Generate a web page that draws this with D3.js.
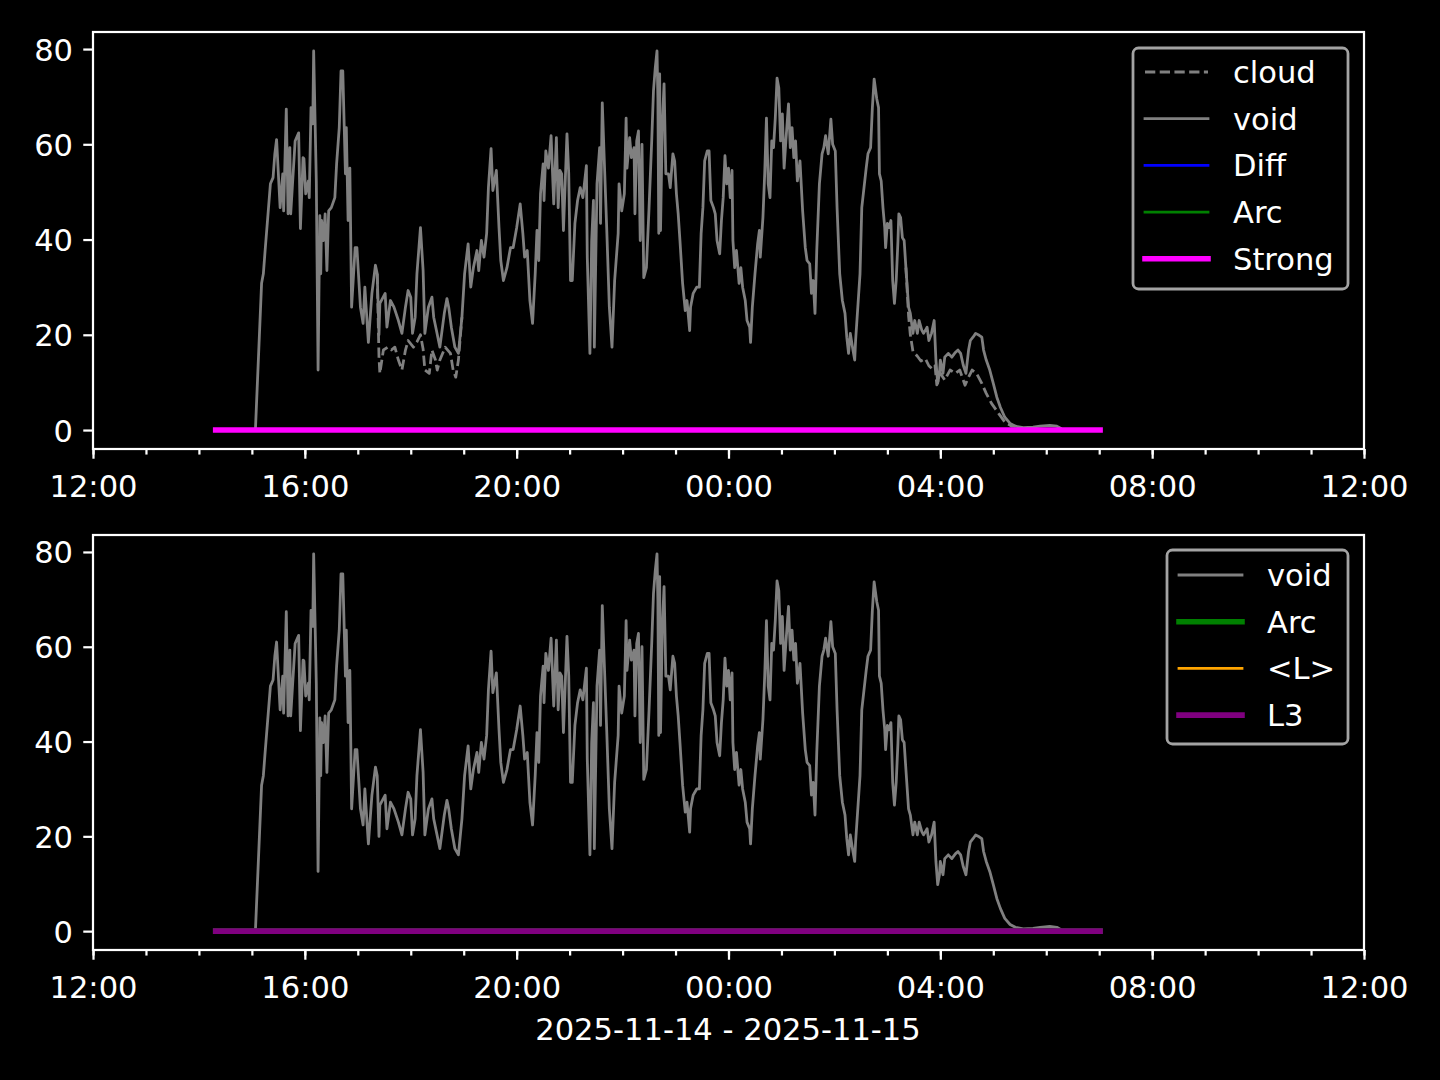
<!DOCTYPE html>
<html><head><meta charset="utf-8">
<script src="https://cdn.jsdelivr.net/npm/d3@7"></script>
<style>
body{margin:0;background:#000}
svg{display:block}
text{font-family:"DejaVu Sans",sans-serif;fill:#fff}
</style></head>
<body><svg id="c" width="1440" height="1080"></svg>
<script>
// ---------- DATA (minutes after 2025-11-14 12:00, value) ----------
const baseDate = new Date(2025, 10, 14, 12, 0);
const xDomainMinutes = [0, 1440];
const yTickValues = [0, 20, 40, 60, 80];
const xLabelText = "2025-11-14 - 2025-11-15";

const voidSeries = [
[184,0],[191,30.8],[193,32.8],[195,37.7],[201,51.7],[204,53],[206,58],[208,61],[212,46.7],[215,53.8],[216,46],[219,67.4],[221,45.4],[223,59.3],[224,45.4],[229,60.7],[233,62.4],[235,42.3],[238,57.2],[239,57],[241,49.6],[244,52.3],[245,48.8],[247,67.7],[249,64.3],[250,79.6],[253,52.3],[255,12.6],[257,45],[258,32.8],[259,44],[261,39.8],[263,45.4],[265,33.5],[267,46],[270,46.7],[274,48.8],[276,55.9],[279,63.5],[281,75.4],[283,75.4],[286,53.8],[287,63.5],[289,44],[291,55],[293,25.8],[297,38.3],[299,38.3],[303,25.8],[306,22.4],[308,30],[312,18.4],[316,28.7],[320,34.6],[322,32.8],[324,20],[325,26.6],
[331,28.7],[333,21.6],[337,27.2],[341,25.8],[346,23],[350,20.3],[354,25.8],[357,29.3],[360,27.9],[362,20.3],[365,23.7],[367,32.8],[371,42.5],[374,33.5],[376,20.3],[380,25.8],[384,27.9],[386,23.7],[389,21],[393,17.4],[398,24.5],[401,27.6],[403,25.8],[406,21.6],[410,17.4],[414,16.1],[418,23.7],[421,32.8],[425,39.1],[428,30],[431,34.1],[435,37.7],[437,33.5],[440,39.8],[443,36.3],[446,41.3],[448,50.9],[451,59.1],[453,50.3],[457,54.5],[460,42.5],[462,35.6],[465,31.4],[469,34.1],[473,38.3],[476,38.3],[480,42.5],[484,47.5],
[487,41.3],[489,36.3],[492,37.7],[495,27.2],[498,22.4],[501,32.8],[503,41.9],[505,35.6],[507,49.6],[510,55.9],[511,48.2],[513,58.6],[516,55],[519,61.8],[522,47.5],[525,61.4],[527,46.7],[529,54.5],[531,53.8],[533,41.9],[537,62.2],[539,53.8],[541,31.4],[543,31.4],[546,43.4],[549,48.2],[552,50.9],[555,48.8],[559,55.5],[560,36.3],[563,16.1],[565,39.8],[567,48.2],[568,17.4],[571,51.7],[574,59.3],[575,43.4],[577,68.7],[579,58],[582,42.5],[585,25.8],[588,17.4],[591,31.4],[595,41.3],[596,51.7],[599,46],[602,49.6],[604,65.5],[605,55],[608,61.4],[610,57.2],[613,59.3],[614,45.4],[616,60.7],[618,62.8],[620,39.8],[622,60],[624,32],[627,34.1],[630,46.7],[633,60.7],[635,71.2],[637,76],[639,79.6],[640,69.7],[641,41.3],[642,74.8],[643,41.9],[645,64.3],[647,72.7],[649,53.8],[652,53.8],[654,50.9],[657,58],[659,56.5],[661,49.6],[663,45.4],[665,39.8],[668,30.8],[671,25.1],[673,27.2],[676,20.9],[677,25.8],[680,28.7],[684,30],[687,30],[689,41.3],[691,46.7],[693,56.5],[696,58.6],[698,58.6],[700,48.2],[703,46.7],[705,45.4],[707,39.8],[710,37],[712,44],[714,48.8],[716,57.6],[718,51.7],[720,55],[722,48.8],[724,54.5],[725,39.8],[727,34.1],[729,37.7],[732,30.8],[734,34.1],[736,30],[739,27.2],[741,23],[744,21.6],[745,18.4],[747,25.8],[750,32.8],[753,39.1],[755,41.9],[756,36.3],[759,44.6],[761,53.8],[763,65.5],[765,51.7],[767,48.8],[769,60.7],[771,59.3],[773,65.5],[775,73.9],[777,71.8],[779,60.7],[781,66.4],[783,55],[785,60.7],[788,68.5],[790,59.3],[792,63.5],[794,57.2],[796,60.7],[798,52.3],[800,55],
[801,56.5],[804,46],[807,38.3],[809,35.6],[812,34.9],[814,28.7],[816,31.4],[818,24.5],[820,37.7],[823,51.7],[826,58],[828,59.3],[830,61.8],[833,58],[836,65.3],[838,60],[841,58.6],[843,46.7],[846,32.8],[849,27.2],[852,24.5],[854,19.5],[856,16.1],[858,20.3],[861,16.8],[863,14.7],[864,18.8],[867,27.2],[869,32.8],[871,46.7],[874,51.7],[876,55],[878,58],[881,59.3],[883,67.7],[885,73.7],[888,69.5],[890,67.7],[891,53.8],[893,52.3],[895,46.7],[897,42.5],[898,38.3],[900,43.4],[902,42.5],[904,44],[906,31.4],[908,26.6],[910,31.4],[912,39.8],[913,45.4],[915,44.6],[917,40.4],[919,39.8],[921,34.1],[924,25.8],[926,24.5],[929,20.3],[931,23],[934,20.3],[936,23],[939,21],[941,20.3],[945,21.6],[947,18.8],[950,20.3],[953,23],[955,14.7],[957,9.8],[959,11.9],[960,14.7],[963,11.9],[965,15.3],[969,16.1],[973,15.3],[977,16.3],[980,16.8],[983,16.1],[986,13.6],[989,11.9],[992,16.8],[994,18.8],[997,19.5],[1000,20.3],[1004,19.9],[1007,19.5],[1009,16.8],[1012,14.7],[1016,12.6],[1020,9.8],[1024,6.9],[1028,4.8],[1033,2.7],[1039,1.4],[1045,0.8],[1054,0.5],[1065,0.6],[1073,0.8],[1084,1.0],[1092,0.8],[1096,0.4]
];

// cloud differs from void only in these two stretches (elsewhere it lies under void)
const cloudSeries = [
[322,32.8],[324,15.3],[325,11.9],[329,16.8],[334,17.4],[338,16.8],[342,17.4],[346,14.7],[350,12.6],[354,16.8],[357,18.8],[363,17.4],[367,18.5],[371,20],[374,17],[376,12.6],[381,11.9],[384,16.8],[388,14.7],[390,12.6],[393,14.7],[399,17.4],[405,16.1],[408,12.6],[411,11.1],[414,14.7],[418,23.7],
null,
[921,34.1],[924,24],[926,20],[929,16.5],[934,15.5],[938,14.5],[943,15],[947,13.5],[951,12.8],[954,13.5],[956,9.5],[960,11.9],[965,10.5],[971,12.6],[977,11.9],[982,12.6],[988,9.4],[992,11.1],[996,12.6],[1001,11.9],[1007,9.8],[1012,7.7],[1018,5.6],[1026,3.5],[1033,1.7],[1041,0.8],[1045,0.8]
];

const flatMinutes = [139, 1141];
const diffValues = [0, 0];
const arcValues = [0, 0];
const strongValues = [0, 0];
const meanLValues = [0, 0];
const l3Values = [0, 0];

// ---------- RENDER ----------
const svg = d3.select("#c");
svg.append("rect").attr("width",1440).attr("height",1080).attr("fill","#000");
const PT = 200/72;
const FS = 11*PT;
const toDate = m => new Date(baseDate.getTime() + m*60000);

const x = d3.scaleTime().domain(xDomainMinutes.map(toDate)).range([93, 1364]);
const yMax = d3.max(voidSeries, d => d[1]);
const pad = yMax*0.05;

function flat(vals){ return flatMinutes.map((m,i)=>[m, vals[i]]); }

function panel(top, bottom, lines, legend){
  const y = d3.scaleLinear().domain([-pad, yMax+pad]).range([bottom, top]);
  const g = svg.append("g");
  const line = d3.line().defined(d=>d!==null).x(d=>x(toDate(d[0]))).y(d=>y(d[1]));
  const clip = "clip"+top;
  svg.append("clipPath").attr("id",clip).append("rect").attr("x",93).attr("y",top).attr("width",1271).attr("height",bottom-top);
  const pg = g.append("g").attr("clip-path",`url(#${clip})`);
  lines.forEach(L=>{
    pg.append("path").attr("d", line(L.data)).attr("fill","none")
      .attr("stroke",L.color).attr("stroke-width",L.w*PT)
      .attr("stroke-linejoin","round").attr("stroke-linecap",L.dash?"butt":"square")
      .attr("stroke-dasharray", L.dash ? `${3.7*L.w*PT} ${1.6*L.w*PT}` : null);
  });
  // axes
  const xa = d3.axisBottom(x).ticks(d3.timeHour.every(4)).tickFormat(d3.timeFormat("%H:%M")).tickSize(3.5*PT).tickPadding(0);
  const xg = g.append("g").attr("transform",`translate(0,${bottom})`).call(xa);
  const xm = d3.axisBottom(x).ticks(d3.timeHour.every(1)).tickFormat("").tickSize(2*PT);
  const xmg = g.append("g").attr("transform",`translate(0,${bottom})`).call(xm);
  const ya = d3.axisLeft(y).tickValues(yTickValues).tickSize(3.5*PT).tickPadding(3.5*PT);
  const yg = g.append("g").attr("transform",`translate(93,0)`).call(ya);
  [xg,xmg,yg].forEach(a=>{
    a.select(".domain").remove();
    a.selectAll("line").attr("stroke","#fff").attr("stroke-width",0.8*PT);
    a.selectAll("text").attr("fill","#fff").style("font-size",FS+"px").style("font-family","DejaVu Sans");
  });
  xg.selectAll("text").attr("y",48).attr("dy",null);
  yg.selectAll("text").attr("dy",null).attr("y",11).attr("x",-20);
  g.append("rect").attr("x",93).attr("y",top).attr("width",1271).attr("height",bottom-top)
    .attr("fill","none").attr("stroke","#fff").attr("stroke-width",0.8*PT);
  // legend
  const lg = g.append("g");
  lg.append("rect").attr("x",legend.x0).attr("y",legend.y0).attr("width",legend.x1-legend.x0).attr("height",legend.y1-legend.y0)
    .attr("rx",5.5).attr("ry",5.5).attr("fill","#000").attr("fill-opacity",0.8)
    .attr("stroke","#cccccc").attr("stroke-opacity",0.8).attr("stroke-width",1*PT);
  legend.items.forEach((it,i)=>{
    const yy = legend.firstY + i*46.7;
    lg.append("line").attr("x1",legend.hx0).attr("x2",legend.hx1).attr("y1",yy).attr("y2",yy)
      .attr("stroke",it.color).attr("stroke-width",it.w*PT)
      .attr("stroke-linecap",it.dash?"butt":"square")
      .attr("stroke-dasharray", it.dash ? `${3.7*it.w*PT} ${1.6*it.w*PT}` : null);
    lg.append("text").attr("x",legend.tx).attr("y",yy+11).style("font-size",FS+"px").text(it.name);
  });
  return y;
}

const topLines = [
  {name:"cloud", data:cloudSeries, color:"#808080", w:1, dash:true},
  {name:"void", data:voidSeries, color:"#808080", w:1},
  {name:"Diff", data:flat(diffValues), color:"#0000ff", w:1},
  {name:"Arc", data:flat(arcValues), color:"#008000", w:1},
  {name:"Strong", data:flat(strongValues), color:"#ff00ff", w:2}
];
panel(32, 449, topLines, {x0:1133,x1:1348,y0:48,y1:289,firstY:72,hx0:1145,hx1:1208,tx:1233,items:topLines});

const botLines = [
  {name:"void", data:voidSeries, color:"#808080", w:1},
  {name:"Arc", data:flat(arcValues), color:"#008000", w:2},
  {name:"<L>", data:flat(meanLValues), color:"#ffa500", w:1},
  {name:"L3", data:flat(l3Values), color:"#800080", w:2}
];
panel(535, 950, botLines, {x0:1167,x1:1348,y0:550,y1:744,firstY:575,hx0:1179,hx1:1242,tx:1267,items:botLines});

svg.append("text").attr("x",728).attr("y",1040).attr("text-anchor","middle").style("font-size",FS+"px").text(xLabelText);
</script></body></html>
